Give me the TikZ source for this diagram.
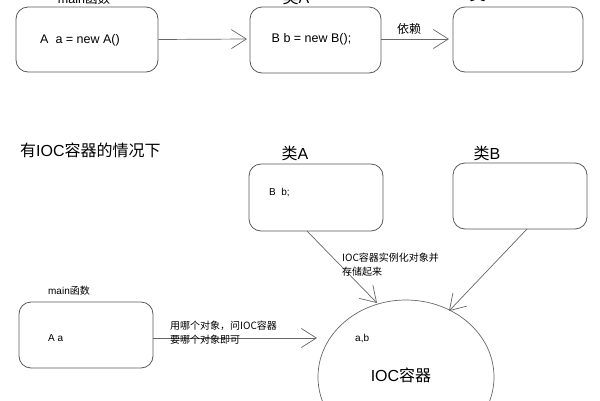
\documentclass[tikz,border=0pt]{standalone}
\usepackage{fontspec}
\setmainfont{Liberation Sans}
\newfontfamily\cjk{Noto Sans CJK SC}
\usetikzlibrary{arrows.meta,shapes.geometric}
\tikzset{
  box/.style={draw=black!65, line width=0.8pt, rounded corners=12pt},
  conn/.style={draw=black!60, line width=0.7pt, -{Straight Barb[length=15pt,width=19pt,line width=0.7pt]}},
  txt/.style={inner sep=0pt, font=\fontsize{10}{13}\selectfont, align=left},
  big/.style={inner sep=0pt, font=\fontsize{16}{18}\selectfont},
  mid/.style={inner sep=0pt, font=\fontsize{12.5}{14}\selectfont},
}
\begin{document}
\begin{tikzpicture}[x=1pt,y=-1pt]
\useasboundingbox (0,0) rectangle (600,400);
\clip (0,0) rectangle (600,400);
% top row
\node[box, minimum width=142pt, minimum height=65pt] (m1) at (87,39.5) {};
\node[mid] (m1t) at (80,40) {A\ \ a = new A()};
\node[mid] (m1l) at (84,-1) {main{\cjk 函数}};
\node[box, minimum width=131pt, minimum height=66pt] (a1) at (315.5,40) {};
\node[mid] (a1t) at (311.5,39) {B b = new B();};
\node[big] (a1l) at (296,-3) {{\cjk 类}A};
\node[box, minimum width=130pt, minimum height=65pt] (b1) at (518,39.5) {};
\node[big] (b1l) at (483,-6) {{\cjk 类}B};
\coordinate (m1e) at (247,39);
\draw[conn] (m1.east) -- (m1e);
\coordinate (a1e) at (449,39);
\draw[conn] (a1.east |- a1e) -- (a1e);
\node[font=\fontsize{12}{14}\selectfont\cjk, inner sep=0pt] (dep) at (409,29) {依赖};
% bottom
\node[big, anchor=west] (title) at (20,150) {{\cjk 有}IOC{\cjk 容器的情况下}};
\node[big] (a2l) at (295,153) {{\cjk 类}A};
\node[box, minimum width=134pt, minimum height=67pt] (a2) at (316,197.5) {};
\node[txt, anchor=west] (a2t) at (269,193) {B\ \ b;};
\node[big] (b2l) at (487,153) {{\cjk 类}B};
\node[box, minimum width=134pt, minimum height=66pt] (b2) at (520,196) {};
\node[draw=black!60, line width=0.7pt, ellipse, minimum width=176pt, minimum height=154pt, inner sep=0pt] (ioc) at (406,377) {};
\node[txt, anchor=west] (ab) at (355,339) {a,b};
\node[big] (iocl) at (401,375) {IOC{\cjk 容器}};
\coordinate (a2s) at (307,231);
\coordinate (iocA) at (377,303);
\draw[conn] (a2s) -- (iocA);
\coordinate (b2s) at (527,229);
\coordinate (iocB) at (449,311);
\draw[conn] (b2s) -- (iocB);
\node[txt, anchor=north west, font=\fontsize{10}{14}\selectfont\cjk] (inst) at (342,253) {IOC容器实例化对象并\\存储起来};
\node[txt] (m2l) at (69,291) {main{\cjk 函数}};
\node[box, minimum width=134pt, minimum height=66pt] (m2) at (86,335) {};
\node[txt, anchor=west] (m2t) at (48,338) {A a};
\coordinate (m2e) at (317,338);
\draw[conn] (m2.east |- m2e) -- (m2e);
\node[txt, anchor=north west, font=\fontsize{10}{14}\selectfont\cjk] (ask) at (170,321) {用哪个对象，问IOC容器\\要哪个对象即可};
\end{tikzpicture}
\end{document}
